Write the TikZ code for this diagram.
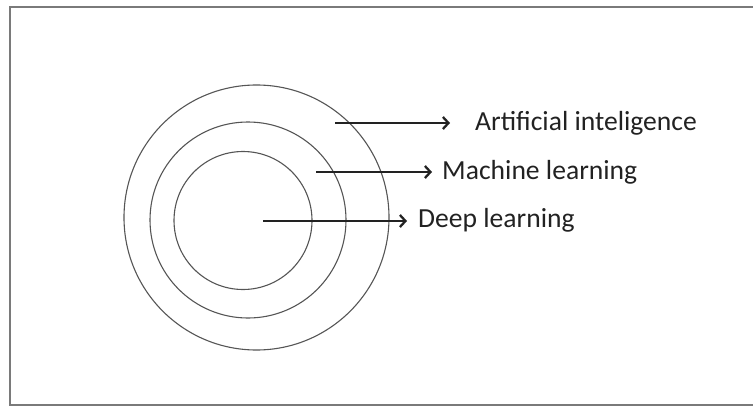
\documentclass[tikz,border=0pt]{standalone}
\usepackage{fontspec}
\setmainfont{Carlito}
\usetikzlibrary{arrows.meta,positioning}

\definecolor{ink}{HTML}{222222}
\definecolor{rim}{HTML}{555555}
\definecolor{frame}{HTML}{7A7A7A}

\begin{document}
\begin{tikzpicture}[x=1pt,y=-1pt,>={Straight Barb[length=5.5pt,width=12pt]},
    font=\fontsize{27.6}{32}\selectfont,
    ring/.style={circle,draw=rim,line width=1.1pt,inner sep=0pt},
    label/.style={text=ink,anchor=west,inner sep=0pt},
    pointer/.style={->,draw=ink,line width=2.3pt}]
    \useasboundingbox (0,0) rectangle (753,407);
    \draw [frame,line width=2pt] (760,6.5) -- (10,6.5) -- (10,405) -- (760,405);
    % three nested rings
    \node [ring,minimum size=265pt] (outer) at (256.5,217.5) {};
    \node [ring,minimum size=196pt] (middle) at (248,220) {};
    \node [ring,minimum size=138pt] (inner) at (243,220.5) {};
    % labels and their pointers
    \node [label] (ai) at (475,123) {Artificial inteligence};
    \node [label] (ml) at (442,172) {Machine learning};
    \node [label] (dl) at (418,220) {Deep learning};
    \coordinate (ai start) at (335,123);
    \coordinate (ml start) at (316,172);
    \coordinate (dl start) at (263,221);
    \draw [pointer,shorten >=25pt] (ai start) -- (ai.west |- ai start);
    \draw [pointer,shorten >=10pt] (ml start) -- (ml.west |- ml start);
    \draw [pointer,shorten >=11pt] (dl start) -- (dl.west |- dl start);
\end{tikzpicture}
\end{document}
